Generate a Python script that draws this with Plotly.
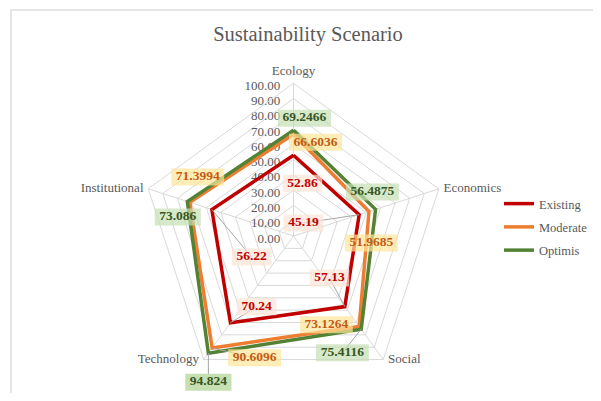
import plotly.graph_objects as go

# ---------------- data ----------------
categories = ["Ecology", "Economics", "Social", "Technology", "Institutional"]
series_names = ["Existing", "Moderate", "Optimis"]
existing = [52.86, 45.19, 57.13, 70.24, 56.22]
moderate = [66.6036, 51.9685, 73.1264, 90.6096, 71.3994]
optimis = [69.2466, 56.4875, 75.4116, 94.824, 73.086]
label_texts = [
    ["52.86", "45.19", "57.13", "70.24", "56.22"],
    ["66.6036", "51.9685", "73.1264", "90.6096", "71.3994"],
    ["69.2466", "56.4875", "75.4116", "94.824", "73.086"],
]
radial_ticks = [0, 10, 20, 30, 40, 50, 60, 70, 80, 90, 100]

# ---------------- styling / layout ----------------
line_colors = ["#C00000", "#ED7D31", "#548235"]
box_colors = ["#FCE4D6", "#FFE699", "#C6E0B4"]
text_colors = ["#C00000", "#C55A11", "#375623"]
# data-label placement (r, theta in degrees clockwise from top); None = placed
# below its own point with a pixel drop (see label_drop)
label_r = [
    [35.1, 10.7, 36.2, 52.3, 30.7],
    [63.1, 51.2, 62.0, 83.7, 73.6],
    [77.5, 59.1, 82.9, None, 76.8],
]
label_theta = [
    [9.6, 37.6, 139.4, 207.5, 243.4],
    [13.2, 95.1, 159.7, 197.7, 301.6],
    [5.3, 60.9, 157.3, None, 279.3],
]
label_drop = 29  # px, for labels placed below their point
leader = [
    [False, True, True, True, True],
    [False, False, False, True, False],
    [False, False, True, True, False],
]
cat_textpos = ["top center", "middle right", "middle right", "middle left", "middle left"]

# page body adds an 8px margin: figure is drawn offset by 8px
OFF = 8
W, H = 601 - 2 * OFF, 401 - 2 * OFF
cx, cy, R = 294 - OFF, 236 - OFF, 153
dom_x = [(cx - R) / W, (cx + R) / W]
dom_y = [(H - cy - R) / H, (H - cy + R) / H]

serif = "Liberation Serif, Times New Roman, serif"
grey = "#595959"
grid = "#D9D9D9"
lead_col = "#A6A6A6"
box_h = 17

all_values = [existing, moderate, optimis]
n = len(categories)
cat_deg = [i * 360.0 / n for i in range(n)]


def box_w(t):
    return len(t) * 6.7 + 6


fig = go.Figure()

# series lines (category polar)
for k, (name, vals, col) in enumerate(zip(series_names, all_values, line_colors)):
    fig.add_trace(go.Scatterpolar(
        r=vals + vals[:1], theta=categories + categories[:1],
        mode="lines", name=name, legendgroup="g%d" % k,
        line=dict(color=col, width=3.5),
        subplot="polar", hoverinfo="skip",
    ))

# category names at the outer vertices
fig.add_trace(go.Scatterpolar(
    r=[radial_ticks[-1]] * n, theta=cat_deg, mode="markers+text", text=categories,
    textposition=cat_textpos,
    marker=dict(size=6, color="rgba(0,0,0,0)"),
    textfont=dict(family=serif, size=13, color=grey),
    subplot="polar2", showlegend=False, hoverinfo="skip", cliponaxis=False,
))

# leader lines
lr, lt = [], []
drop_pts = []
for s in range(3):
    for i in range(n):
        if label_r[s][i] is None:
            drop_pts.append((s, i))
            continue
        if leader[s][i]:
            lr += [label_r[s][i], all_values[s][i], None]
            lt += [label_theta[s][i], cat_deg[i], None]
fig.add_trace(go.Scatterpolar(
    r=lr, theta=lt, mode="lines", line=dict(color=lead_col, width=1),
    subplot="polar2", showlegend=False, hoverinfo="skip", cliponaxis=False,
))
for s, i in drop_pts:
    if leader[s][i]:
        fig.add_trace(go.Scatterpolar(
            r=[all_values[s][i]], theta=[cat_deg[i]], mode="markers",
            marker=dict(symbol="line-ns", size=(label_drop - 6) / 1.4, angle=0,
                        standoff=(label_drop - 6) / 2,
                        line=dict(color=lead_col, width=1)),
            subplot="polar2", showlegend=False, hoverinfo="skip", cliponaxis=False,
        ))

# data labels with boxes
for s in range(3):
    idx = [i for i in range(n) if label_r[s][i] is not None]
    fig.add_trace(go.Scatterpolar(
        r=[label_r[s][i] for i in idx], theta=[label_theta[s][i] for i in idx],
        mode="markers+text", text=[label_texts[s][i] for i in idx],
        textposition="middle center",
        textfont=dict(family=serif, size=13.5, color=text_colors[s], weight="bold"),
        marker=dict(symbol="line-ew", size=[box_w(label_texts[s][i]) / 1.4 for i in idx],
                    line=dict(color=box_colors[s], width=box_h)),
        subplot="polar2", showlegend=False, hoverinfo="skip", cliponaxis=False,
    ))

# labels dropped below their own point
for s, i in drop_pts:
    fig.add_trace(go.Scatterpolar(
        r=[all_values[s][i]], theta=[cat_deg[i]], mode="markers",
        marker=dict(symbol="line-ew", size=box_w(label_texts[s][i]) / 1.4,
                    angle=0, standoff=label_drop,
                    line=dict(color=box_colors[s], width=box_h)),
        subplot="polar2", showlegend=False, hoverinfo="skip", cliponaxis=False,
    ))
    fig.add_trace(go.Scatterpolar(
        r=[all_values[s][i]], theta=[cat_deg[i]], mode="markers+text",
        text=[label_texts[s][i]], textposition="bottom center",
        marker=dict(size=2 * 0.8 * (label_drop - 8), color="rgba(0,0,0,0)"),
        textfont=dict(family=serif, size=13.5, color=text_colors[s], weight="bold"),
        subplot="polar2", showlegend=False, hoverinfo="skip", cliponaxis=False,
    ))

fig.update_layout(
    width=W, height=H,
    margin=dict(l=0, r=0, t=0, b=0),
    paper_bgcolor="white",
    title=dict(text="Sustainability Scenario", x=(308 - OFF) / W, xanchor="center",
               y=1 - (34 - OFF) / H, yanchor="middle",
               font=dict(family=serif, size=20.5, color=grey)),
    polar=dict(
        domain=dict(x=dom_x, y=dom_y),
        bgcolor="white",
        gridshape="linear",
        angularaxis=dict(
            type="category", rotation=90, direction="clockwise",
            categoryorder="array", categoryarray=categories,
            showline=True, linecolor=grid, linewidth=1,
            showgrid=True, gridcolor=grid, gridwidth=1,
            ticks="", showticklabels=False,
        ),
        radialaxis=dict(
            range=[0, 100], tickmode="array", tickvals=radial_ticks,
            tickformat=".2f", angle=90, side="counterclockwise",
            showline=False, showgrid=True, gridcolor=grid, gridwidth=1,
            ticks="outside", ticklen=1, tickcolor="rgba(0,0,0,0)",
            tickfont=dict(family=serif, size=13, color=grey),
            layer="below traces",
        ),
    ),
    polar2=dict(
        domain=dict(x=dom_x, y=dom_y),
        bgcolor="rgba(0,0,0,0)",
        angularaxis=dict(type="linear", thetaunit="degrees", rotation=90,
                         direction="clockwise", visible=False, showgrid=False,
                         showline=False, showticklabels=False, ticks=""),
        radialaxis=dict(range=[0, 100], visible=False, showgrid=False,
                        showline=False, showticklabels=False, ticks=""),
    ),
    legend=dict(x=(500 - OFF) / W, y=1 - (189 - OFF) / H, xanchor="left", yanchor="top",
                font=dict(family=serif, size=12.5, color=grey),
                bgcolor="rgba(0,0,0,0)", itemwidth=30,
                traceorder="grouped", tracegroupgap=4),
    shapes=[dict(type="rect", xref="paper", yref="paper",
                 x0=(11 - OFF) / W, x1=1.05, y0=-0.05, y1=1 - (10 - OFF) / H,
                 line=dict(color="#E6E6E6", width=2), layer="below")],
)

fig.write_html("out.html")
